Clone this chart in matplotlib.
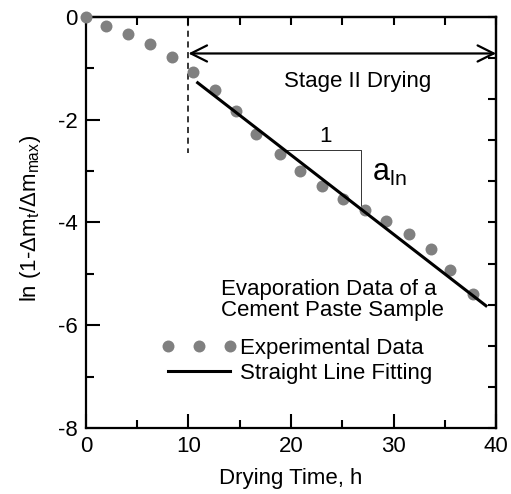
import matplotlib
matplotlib.use("Agg")
import matplotlib.pyplot as plt

plt.rcParams['font.family'] = ['Liberation Sans', 'DejaVu Sans']
plt.rcParams['mathtext.fontset'] = 'custom'
plt.rcParams['mathtext.rm'] = 'Liberation Sans'
plt.rcParams['mathtext.it'] = 'Liberation Sans:italic'
plt.rcParams['axes.unicode_minus'] = False

time_h = [0, 2.0, 4.1, 6.3, 8.4, 10.4, 12.6, 14.6, 16.6, 18.9, 20.9, 23.0, 25.1, 27.2, 29.3, 31.5, 33.6, 35.5, 37.7]
ln_val = [0, -0.17, -0.33, -0.53, -0.78, -1.08, -1.43, -1.83, -2.28, -2.67, -2.99, -3.28, -3.54, -3.75, -3.97, -4.23, -4.52, -4.92, -5.40]

# straight line fit (stage II)
fit_t = [10.9, 39.0]
fit_y = [-1.28, -5.62]

stage_start = 10
tri_t = [19.6, 26.8]
tri_y = [-2.58, -3.69]

fs = 16
fig = plt.figure(figsize=(5.11, 4.94), dpi=100)
ax = fig.add_axes([0.168, 0.1336, 0.803, 0.832])

ax.plot(time_h, ln_val, 'o', color='#808080', ms=8.6, mec='none', clip_on=False, zorder=3,
        label='Experimental Data')
ax.plot(fit_t, fit_y, '-', color='black', lw=2.2, label='Straight Line Fitting', zorder=4)

# stage II marker
ax.plot([stage_start, stage_start], [-0.05, -2.65], '--', color='black', lw=1.1, dashes=(4, 3))
ax.annotate('', xy=(stage_start, -0.71), xytext=(40, -0.71),
            arrowprops=dict(arrowstyle='<->', lw=1.6, color='black', mutation_scale=29,
                            shrinkA=0, shrinkB=0))
ax.text(26.5, -1.26, 'Stage II Drying', fontsize=fs, ha='center', va='center')

# slope triangle
ax.plot([tri_t[0], tri_t[1], tri_t[1]], [tri_y[0], tri_y[0], tri_y[1]], color='#333333', lw=0.7)
ax.text(23.4, -2.33, '1', fontsize=fs, ha='center', va='center')
ax.text(27.9, -3.04, r'a$\mathregular{_{ln}}$', fontsize=22, ha='left', va='center')

ax.text(13.2, -5.5, 'Evaporation Data of a\nCement Paste Sample', fontsize=fs,
        ha='left', va='center', linespacing=1.0)

ax.legend(loc='upper left', bbox_to_anchor=(0.183, 0.22), frameon=False, fontsize=fs,
          numpoints=3, handlelength=3.4, handletextpad=0.15, labelspacing=0.2, borderpad=0,
          borderaxespad=0)

ax.set_xlim(0, 40)
ax.set_ylim(-8, 0)
ax.set_xticks([0, 10, 20, 30, 40])
ax.set_xticks([5, 15, 25, 35], minor=True)
ax.set_yticks([0, -2, -4, -6, -8])
ax.set_yticks([-1, -3, -5, -7], minor=True)
ax.tick_params(which='major', direction='in', length=10, width=1.5, labelsize=fs, pad=6)
ax.tick_params(which='minor', direction='in', length=6, width=1.5)
for sp in ax.spines.values():
    sp.set_linewidth(1.6)

top = ax.secondary_xaxis('top')
top.set_xticks([0, 5, 10, 15, 20, 25, 30, 35, 40])
top.tick_params(direction='in', length=6, width=1.5, labeltop=False)
right = ax.secondary_yaxis('right')
right.set_yticks([0, -0.8, -1.6, -2.4, -3.2, -4.0, -4.8, -5.6, -6.4, -7.2, -8.0])
right.tick_params(direction='in', length=6, width=1.5, labelright=False)
top.spines['top'].set_linewidth(1.6)
right.spines['right'].set_linewidth(1.6)

ax.set_xlabel('Drying Time, h', fontsize=fs, labelpad=8)
ax.set_ylabel(r'ln (1-Δm$\mathregular{_t}$/Δm$\mathregular{_{max}}$)', fontsize=fs)
ax.yaxis.set_label_coords(-0.105, 0.51)

fig.savefig('out.png', dpi=100)
